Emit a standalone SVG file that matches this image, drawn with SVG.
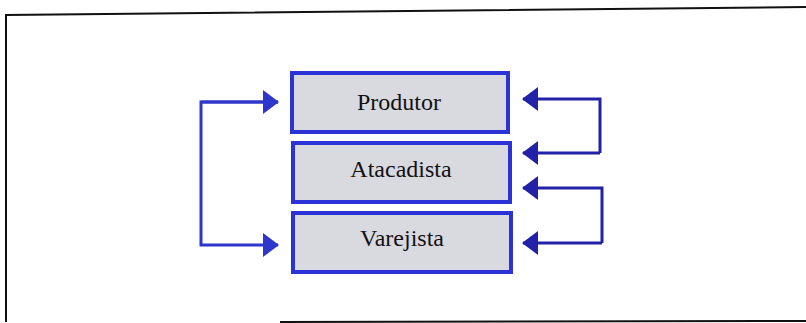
<svg xmlns="http://www.w3.org/2000/svg" width="806" height="323" viewBox="0 0 806 323">
  <style>
    .box { fill: #d9dadf; stroke: #2b33d6; stroke-width: 4; }
    .lbl { font-family: "Liberation Serif", "Times New Roman", serif; font-size: 24px; fill: #111; text-anchor: middle; }
    .wire { fill: none; stroke: #2f36cc; stroke-width: 3; }
    .wire.dark { stroke: #2222a8; }
    .frame { fill: none; stroke: #111; stroke-width: 2; }
  </style>
  <defs>
    <marker id="head" viewBox="0 0 16 24" refX="15" refY="12" markerWidth="16" markerHeight="24" markerUnits="userSpaceOnUse" orient="auto">
      <path d="M0,0 L16,12 L0,24 Z" fill="#2f36cc"/>
    </marker>
    <marker id="headDark" viewBox="0 0 16 24" refX="15" refY="12" markerWidth="16" markerHeight="24" markerUnits="userSpaceOnUse" orient="auto">
      <path d="M0,0 L16,12 L0,24 Z" fill="#2222a8"/>
    </marker>
  </defs>

  <rect width="806" height="323" fill="#ffffff"/>

  <!-- page frame -->
  <path class="frame" d="M6,322 L6,15 L806,7"/>
  <path class="frame" d="M280,322 L806,321"/>

  <!-- connectors -->
  <g id="connectors">
    <path class="wire" d="M278,102 L201,102 L201,245 L278,245" marker-end="url(#head)"/>
    <path class="wire" d="M201,102 L278,102" marker-end="url(#head)"/>
    <path class="wire dark" d="M600,153 L600,99 L523,99" marker-end="url(#headDark)"/>
    <path class="wire dark" d="M600,153 L523,153" marker-end="url(#headDark)"/>
    <path class="wire dark" d="M602,243 L602,188 L523,188" marker-end="url(#headDark)"/>
    <path class="wire dark" d="M602,243 L523,243" marker-end="url(#headDark)"/>
  </g>

  <g id="produtor">
    <rect class="box" x="292" y="73" width="216" height="59"/>
    <text class="lbl" x="399" y="110">Produtor</text>
  </g>
  <g id="atacadista">
    <rect class="box" x="293" y="143" width="217" height="59"/>
    <text class="lbl" x="401" y="177">Atacadista</text>
  </g>
  <g id="varejista">
    <rect class="box" x="293" y="213" width="218" height="59"/>
    <text class="lbl" x="402" y="246">Varejista</text>
  </g>
</svg>
